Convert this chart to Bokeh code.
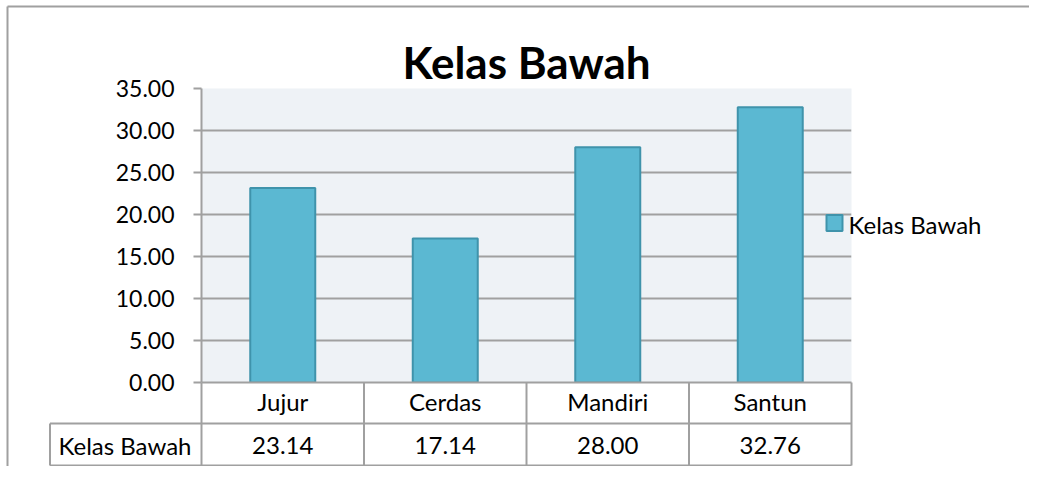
from bokeh.plotting import figure
from bokeh.models import (FactorRange, Range1d, FixedTicker, NumeralTickFormatter,
                          ColumnDataSource)
from bokeh.core.properties import value
from bokeh.embed import file_html
from bokeh.resources import INLINE

# ---- data ----
categories = ["Jujur", "Cerdas", "Mandiri", "Santun"]
kelas_bawah = [23.14, 17.14, 28.00, 32.76]
series_name = "Kelas Bawah"
title_text = "Kelas Bawah"
y_ticks = [0, 5, 10, 15, 20, 25, 30, 35]
y_max = 35

# ---- layout (figure pixels) ----
W, H = 1029, 466
FL, FR, FT, FB = 201, 851, 88, 382
FONT = "Lato"
GREY = "#a0a0a0"
BAR_FILL = "#5bb8d2"
BAR_LINE = "#3f93ab"

p = figure(width=W, height=H, x_range=FactorRange(*categories), y_range=Range1d(0, y_max),
           output_backend="svg", toolbar_location=None,
           min_border_left=FL, min_border_right=W - FR,
           min_border_top=FT, min_border_bottom=H - FB)
p.x_range.range_padding = 0
p.background_fill_color = "#eef2f6"
p.border_fill_color = "white"
p.outline_line_color = None

px_x = (FR - FL) / len(categories)
px_y = (FB - FT) / y_max
def dx(px):
    return (px - FL) / px_x
def dy(py):
    return y_max - (py - FT) / px_y

# title
p.title.text = title_text
p.title.align = "center"
p.title.text_font = FONT
p.title.text_font_style = "bold"
p.title.text_font_size = "44px"
p.title.text_color = "black"
p.title.standoff = 2
p.title.offset = 4

# bars
bars = p.vbar(x=categories, top=kelas_bawah, width=0.4, bottom=0,
              fill_color=BAR_FILL, line_color=BAR_LINE, line_width=2)

# y axis
p.yaxis.ticker = FixedTicker(ticks=y_ticks)
p.yaxis.formatter = NumeralTickFormatter(format="0.00")
p.yaxis.axis_line_color = GREY
p.yaxis.axis_line_width = 2
p.yaxis.major_tick_line_color = GREY
p.yaxis.major_tick_line_width = 2
p.yaxis.major_tick_out = 8
p.yaxis.major_tick_in = 0
p.yaxis.minor_tick_line_color = None
p.yaxis.major_label_standoff = 19
p.yaxis.major_label_text_font = FONT
p.yaxis.major_label_text_font_size = "23px"
p.yaxis.major_label_text_color = "black"

p.ygrid.ticker = FixedTicker(ticks=y_ticks)
p.ygrid.grid_line_color = GREY
p.ygrid.grid_line_width = 2
p.xgrid.grid_line_color = None

# x axis (category row of the data table)
p.xaxis.axis_line_color = GREY
p.xaxis.axis_line_width = 2
p.xaxis.major_tick_line_color = None
p.xaxis.minor_tick_line_color = None
p.xaxis.major_label_standoff = -2
p.xaxis.major_label_text_font = FONT
p.xaxis.major_label_text_font_size = "24px"
p.xaxis.major_label_text_color = "black"

# data table below the chart
row1_bottom = dy(423)
row2_bottom = dy(465)
label_left = dx(49.5)
n = len(categories)
x0s = [label_left, label_left] + list(range(n + 1)) + [label_left]
x1s = [n, n] + list(range(n + 1)) + [label_left]
y0s = [row1_bottom, row2_bottom] + [0] * (n + 1) + [row1_bottom]
y1s = [row1_bottom, row2_bottom] + [row2_bottom] * (n + 1) + [row2_bottom]
tbl = p.segment(x0=x0s, y0=y0s, x1=x1s, y1=y1s, line_color=GREY, line_width=2)
tbl.level = "overlay"

row_y = dy(444.5)
txt_src = ColumnDataSource(dict(
    x=[dx(124.5)] + [i + 0.5 for i in range(n)],
    y=[row_y] * (n + 1),
    t=[series_name] + [f"{v:.2f}" for v in kelas_bawah],
))
tx = p.text(x="x", y="y", text="t", source=txt_src, text_align="center",
            text_baseline="middle", text_font=value(FONT), text_font_size="24px",
            text_color="black")
tx.level = "overlay"

# outer chart border (top and left)
brd = p.segment(x0=[dx(7), dx(7)], y0=[dy(6), dy(6)], x1=[dx(7), dx(W)], y1=[dy(H + 20), dy(6)],
                line_color=GREY, line_width=2)
brd.level = "overlay"

# legend (drawn as overlay so it can extend past the plot area)
leg_key = p.scatter(x=[dx(834)], y=[dy(222.5)], marker="square", size=16,
                    fill_color=BAR_FILL, line_color=BAR_LINE, line_width=2)
leg_key.level = "overlay"
leg_txt = p.text(x=[dx(848)], y=[dy(224)], text=[series_name], text_align="left",
                 text_baseline="middle", text_font=value(FONT), text_font_size="24px",
                 text_color="black")
leg_txt.level = "overlay"

open("out.html", "w").write(file_html(p, INLINE))
